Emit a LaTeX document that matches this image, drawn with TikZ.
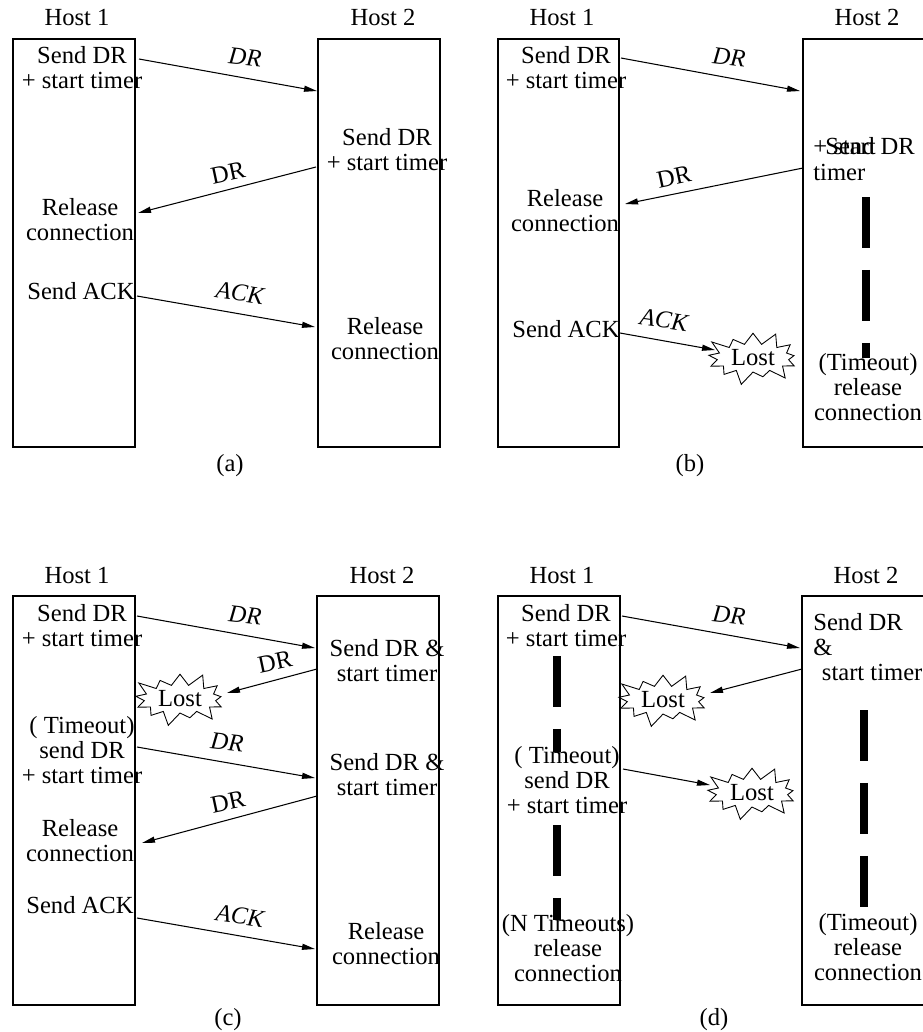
\documentclass[tikz,border=0pt]{standalone}
\usepackage{fontspec}
\setmainfont{Liberation Serif}
\usetikzlibrary{arrows.meta}
\usetikzlibrary{shapes.symbols}

\begin{document}
\begin{tikzpicture}[x=0.02cm,y=-0.02cm,
	every node/.style={font=\fontsize{14}{14.2}\selectfont,align=center,inner sep=0pt},
	host/.style={draw,line width=0.6pt},
	msg/.style={line width=0.6pt,-{Triangle[length=0.26cm,width=0.12cm]}},
	lbl/.style={font=\fontsize{14}{14.2}\selectfont\itshape},
	lost/.style={draw,starburst,starburst points=13,starburst point height=0.3cm,inner xsep=2pt,inner ysep=1pt,line width=0.5pt},
	wait/.style={line width=4pt,dash pattern=on 1.02cm off 0.44cm}]
				\useasboundingbox (0,0) rectangle (923,1032);
				\clip (0,0) rectangle (923,1032);
				% (a)
				\node (ah1) at (77,17) {Host 1};
				\node (ah2) at (383,17) {Host 2};
				\draw[host] (13,39) rectangle (135,447);
				\draw[host] (318,39) rectangle (440,447);
				\node (as1) at (82,68) {Send DR\\+ start timer};
				\node (as2) at (387,150) {Send DR\\+ start timer};
				\node (ar1) at (80,220) {Release\\connection};
				\node (aack) at (81,291) {Send ACK};
				\node (ar2) at (385,339) {Release\\connection};
				\coordinate (a1) at (139,59);
				\coordinate (a2) at (317,91);
				\coordinate (a3) at (316,167);
				\coordinate (a4) at (138,213);
				\coordinate (a5) at (137,296);
				\coordinate (a6) at (315,327);
				\draw[msg] (a1) -- (a2);
				\draw[msg] (a3) -- (a4);
				\draw[msg] (a5) -- (a6);
				\node[lbl,rotate=-6] (adr1) at (245,57) {DR};
				\node[rotate=12] (adr2) at (228,173) {DR};
				\node[lbl,rotate=-8] (aackl) at (240,293) {ACK};
				\node (alab) at (230,466) {(a)};
				% (b)
				\node (bh1) at (562,17) {Host 1};
				\node (bh2) at (867,17) {Host 2};
				\draw[host] (498,39) rectangle (619,447);
				\draw[host] (803,39) rectangle (925,447);
				\draw[wait] (866,197) -- (866,358);
				\node (bs1) at (566,68) {Send DR\\+ start timer};
				\node[anchor=base west] (bs2) at (825,154) {Send DR};
				\node[anchor=base west] (bst1) at (813,154) {+ start};
				\node[anchor=base west] (bst2) at (813,180) {timer};
				\node (br1) at (565,211) {Release\\connection};
				\node (back) at (566,329) {Send ACK};
				\node[lost] (blost) at (753,358) {Lost};
				\node (bto) at (868,387) {(Timeout)\\release\\connection};
				\coordinate (b1) at (621,58);
				\coordinate (b2) at (800,91);
				\coordinate (b3) at (803,168);
				\coordinate (b4) at (625,204);
				\coordinate (b5) at (620,333);
				\coordinate (b6) at (715,350);
				\draw[msg] (b1) -- (b2);
				\draw[msg] (b3) -- (b4);
				\draw[msg] (b5) -- (b6);
				\node[lbl,rotate=-6] (bdr1) at (729,57) {DR};
				\node[rotate=12] (bdr2) at (674,177) {DR};
				\node[lbl,rotate=-8] (backl) at (664,320) {ACK};
				\node (blab) at (690,466) {(b)};
				% (c)
				\node (ch1) at (77,575) {Host 1};
				\node (ch2) at (382,575) {Host 2};
				\draw[host] (13,596) rectangle (135,1005);
				\draw[host] (317,596) rectangle (439,1005);
				\node (cs1) at (82,626) {Send DR\\+ start timer};
				\node (cs2) at (387,661) {Send DR \&\\start timer};
				\node[lost] (clost) at (180,699) {Lost};
				\node (cs3) at (82,750) {( Timeout)\\send DR\\+ start timer};
				\node (cs4) at (387,775) {Send DR \&\\start timer};
				\node (cr1) at (80,841) {Release\\connection};
				\node (cack) at (80,905) {Send ACK};
				\node (cr2) at (386,944) {Release\\connection};
				\coordinate (c1) at (137,616);
				\coordinate (c2) at (315,648);
				\coordinate (c3) at (317,669);
				\coordinate (c4) at (227,693);
				\coordinate (c5) at (137,747);
				\coordinate (c6) at (315,778);
				\coordinate (c7) at (317,796);
				\coordinate (c8) at (142,843);
				\coordinate (c9) at (137,918);
				\coordinate (c10) at (315,949);
				\draw[msg] (c1) -- (c2);
				\draw[msg] (c3) -- (c4);
				\draw[msg] (c5) -- (c6);
				\draw[msg] (c7) -- (c8);
				\draw[msg] (c9) -- (c10);
				\node[lbl,rotate=-6] (cdr1) at (245,615) {DR};
				\node[rotate=12] (cdr2) at (275,662) {DR};
				\node[lbl,rotate=-6] (cdr3) at (227,742) {DR};
				\node[rotate=12] (cdr4) at (228,802) {DR};
				\node[lbl,rotate=-8] (cackl) at (240,916) {ACK};
				\node (clab) at (228,1020) {(c)};
				% (d)
				\node (dh1) at (562,575) {Host 1};
				\node (dh2) at (866,575) {Host 2};
				\draw[host] (498,596) rectangle (620,1005);
				\draw[host] (802,596) rectangle (925,1005);
				\draw[wait] (557,656) -- (557,752);
				\draw[wait] (557,825) -- (557,920);
				\draw[wait] (864,710) -- (864,908);
				\node (ds1) at (566,626) {Send DR\\+ start timer};
				\node[anchor=west,align=left] (ds2) at (813,647) {Send DR\\\&\\\hspace*{0.35em}start timer};
				\node[lost] (dlost1) at (663,700) {Lost};
				\node (ds3) at (567,780) {( Timeout)\\send DR\\+ start timer};
				\node[lost] (dlost2) at (752,793) {Lost};
				\node (ds4) at (568,948) {(N Timeouts)\\release\\connection};
				\node (dto) at (868,947) {(Timeout)\\release\\connection};
				\coordinate (d1) at (622,616);
				\coordinate (d2) at (800,648);
				\coordinate (d3) at (802,669);
				\coordinate (d4) at (710,693);
				\coordinate (d5) at (623,769);
				\coordinate (d6) at (710,785);
				\draw[msg] (d1) -- (d2);
				\draw[msg] (d3) -- (d4);
				\draw[msg] (d5) -- (d6);
				\node[lbl,rotate=-6] (ddr1) at (729,615) {DR};
				\node (dlab) at (714,1020) {(d)};
			\end{tikzpicture}
\end{document}
